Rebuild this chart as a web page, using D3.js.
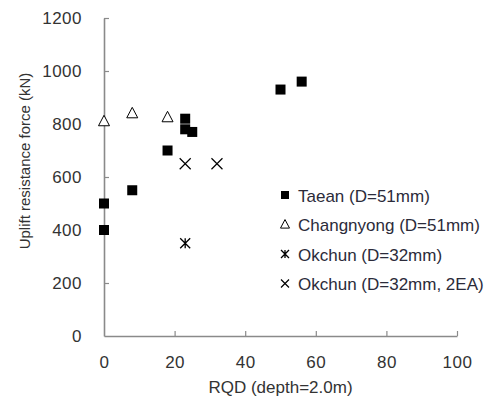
<!DOCTYPE html>
<html>
<head>
<meta charset="utf-8">
<script src="https://cdn.jsdelivr.net/npm/d3@7"></script>
<style>
  body { margin: 0; background: #fff; }
  text { font-family: "Liberation Sans", Arial, sans-serif; }
</style>
</head>
<body>
<div id="chart"></div>
<script>
// data: [RQD, uplift force kN]
const taean = [[0, 400], [0, 500], [8, 550], [18, 700], [23, 820], [23, 780], [25, 770], [50, 930], [56, 960]];
const changnyong = [[0, 810], [8, 840], [18, 825]];
const okchun = [[23, 350]];
const okchun2EA = [[23, 650], [32, 650]];

const xTicks = [0, 20, 40, 60, 80, 100];
const yTicks = [0, 200, 400, 600, 800, 1000, 1200];
const legendLabels = ['Taean (D=51mm)', 'Changnyong (D=51mm)', 'Okchun (D=32mm)', 'Okchun (D=32mm, 2EA)'];

const width = 491, height = 401;
const margin = { top: 18, right: 34, bottom: 65, left: 104 };

const svg = d3.select('#chart').append('svg')
    .attr('width', width)
    .attr('height', height);

const x = d3.scaleLinear().domain([0, 100]).range([margin.left, width - margin.right]);
const y = d3.scaleLinear().domain([0, 1200]).range([height - margin.bottom, margin.top]);

const axisColor = '#8a8a8a';
const textColor = '#333';

// both axes have their ticks pointing inward
const xAxis = svg.append('g')
    .attr('transform', `translate(0,${y(0)})`)
    .call(d3.axisBottom(x).tickValues(xTicks).tickFormat(d3.format('d'))
        .tickSizeInner(-5).tickSizeOuter(0).tickPadding(20));
const yAxis = svg.append('g')
    .attr('transform', `translate(${x(0)},0)`)
    .call(d3.axisLeft(y).tickValues(yTicks).tickFormat(d3.format('d'))
        .tickSizeInner(-5).tickSizeOuter(0).tickPadding(22));

[xAxis, yAxis].forEach(a => {
    a.select('.domain').attr('stroke', axisColor).attr('stroke-width', 1.6);
    a.selectAll('.tick line').attr('stroke', axisColor).attr('stroke-width', 1.2);
    a.selectAll('.tick text').attr('fill', textColor)
        .style('font-size', '17px').style('letter-spacing', '0.5px');
});
xAxis.selectAll('.tick').filter(d => d === 0).select('line').remove();
yAxis.selectAll('.tick').filter(d => d === 0).select('line').remove();

svg.append('text')
    .attr('x', (x(0) + x(100)) / 2)
    .attr('y', 393)
    .attr('text-anchor', 'middle')
    .attr('fill', textColor)
    .style('font-size', '17px')
    .text('RQD (depth=2.0m)');

svg.append('text')
    .attr('transform', 'translate(30,161) rotate(-90)')
    .attr('text-anchor', 'middle')
    .attr('fill', textColor)
    .style('font-size', '15px')
    .text('Uplift resistance force (kN)');

// marker drawers
const drawSquare = (g, s) => g.append('rect')
    .attr('x', -s / 2).attr('y', -s / 2).attr('width', s).attr('height', s)
    .attr('fill', '#000');
const drawTriangle = (g, s) => g.append('path')
    .attr('d', `M0,${-s * 0.55}L${s * 0.5},${s * 0.4}L${-s * 0.5},${s * 0.4}Z`)
    .attr('fill', '#fff').attr('stroke', '#000').attr('stroke-width', 1);
const drawAsterisk = (g, s) => g.append('path')
    .attr('d', `M${-s / 2},${-s / 2}L${s / 2},${s / 2}M${s / 2},${-s / 2}L${-s / 2},${s / 2}M0,${-s / 2}L0,${s / 2}`)
    .attr('stroke', '#000').attr('stroke-width', 1.3);
const drawCross = (g, s) => g.append('path')
    .attr('d', `M${-s / 2},${-s / 2}L${s / 2},${s / 2}M${s / 2},${-s / 2}L${-s / 2},${s / 2}`)
    .attr('stroke', '#000').attr('stroke-width', 1.2);

const series = [
    { data: taean, draw: drawSquare, size: 10 },
    { data: changnyong, draw: drawTriangle, size: 11 },
    { data: okchun, draw: drawAsterisk, size: 10 },
    { data: okchun2EA, draw: drawCross, size: 11 }
];

series.forEach(s => {
    svg.append('g').selectAll('g')
        .data(s.data)
        .join('g')
        .attr('transform', d => `translate(${x(d[0])},${y(d[1])})`)
        .each(function () { s.draw(d3.select(this), s.size); });
});

// legend
const legendSizes = [8, 9, 8, 8];
const legend = svg.append('g').attr('transform', 'translate(285,195)');
legendLabels.forEach((label, i) => {
    const row = legend.append('g').attr('transform', `translate(0,${i * 29.5})`);
    series[i].draw(row, legendSizes[i]);
    row.append('text')
        .attr('x', 13)
        .attr('y', 6.5)
        .attr('fill', '#2b2b3a')
        .style('font-size', '17px')
        .text(label);
});
</script>
</body>
</html>
